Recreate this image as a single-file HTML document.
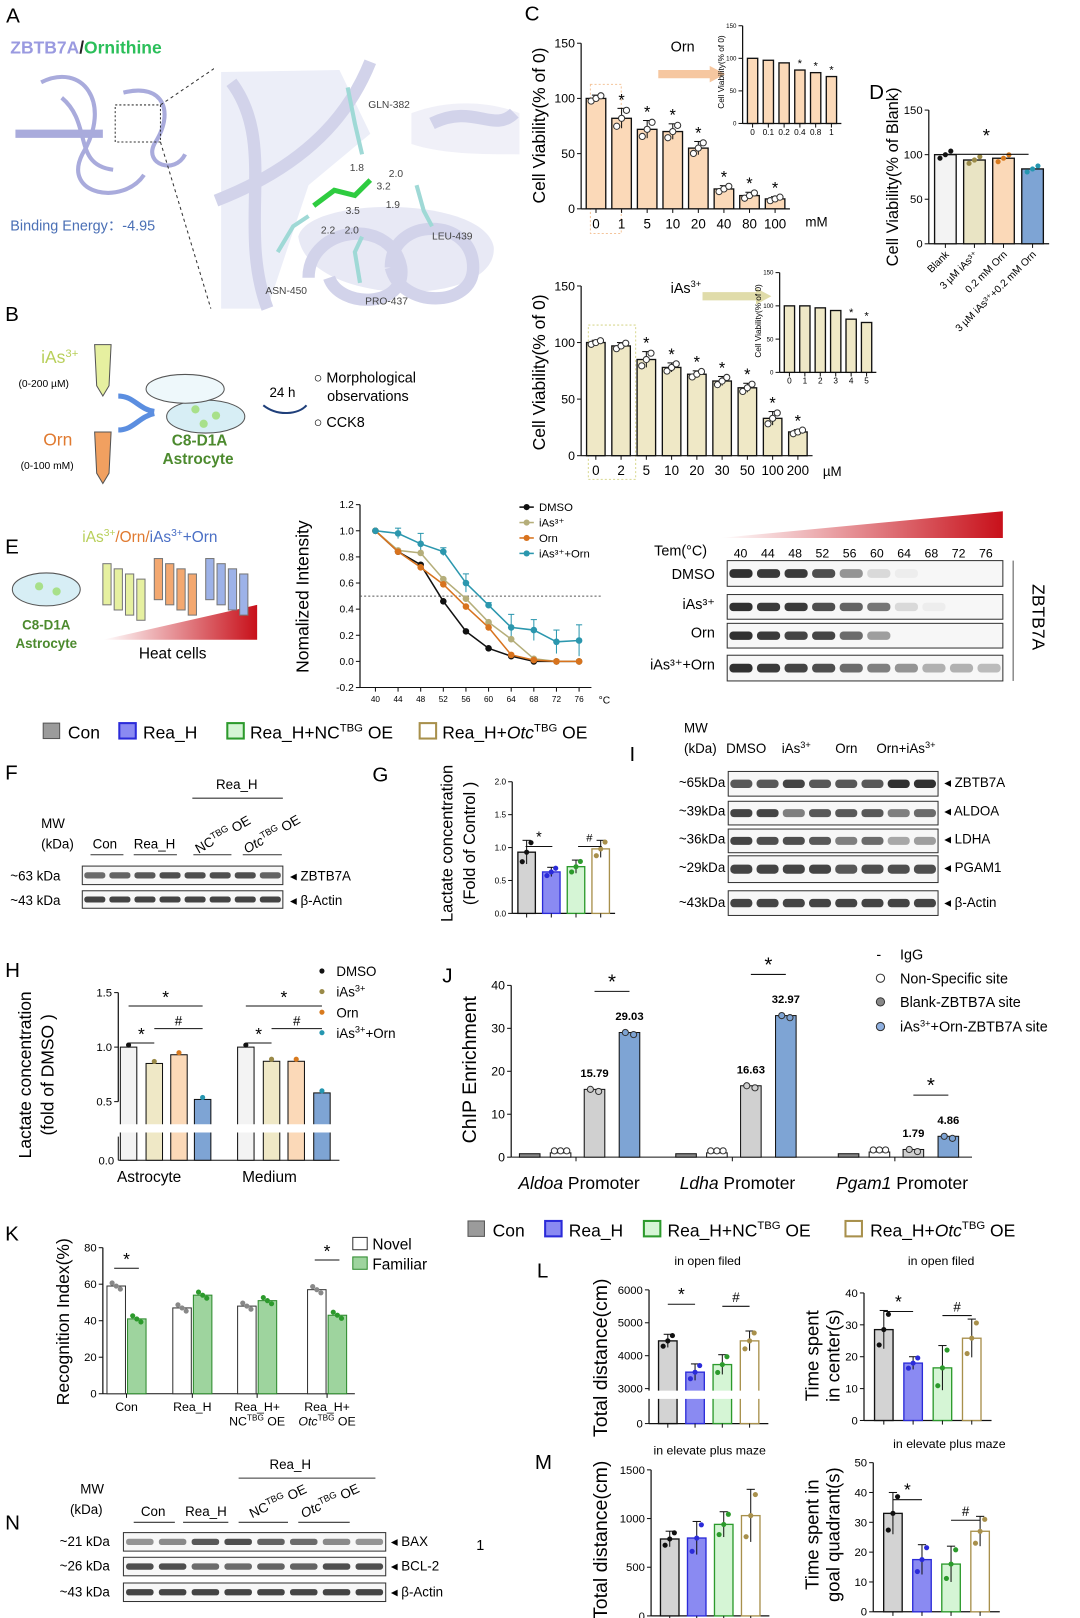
<!DOCTYPE html>
<html><head><meta charset="utf-8">
<style>
html,body{margin:0;padding:0;background:#fff;}
svg{display:block;font-family:"Liberation Sans",Arial,sans-serif;}
</style></head>
<body>
<svg id="fig" width="1080" height="1618" viewBox="0 0 1050 1573" xmlns="http://www.w3.org/2000/svg">
<defs>
<linearGradient id="redg" x1="0" x2="1" y1="0" y2="0"><stop offset="0" stop-color="#fff"/><stop offset="1" stop-color="#c8101a"/></linearGradient>
</defs>
<!-- Panel A -->
<g>
<text x="6" y="22" font-size="20">A</text>
<text x="10" y="52" font-size="17" font-weight="bold"><tspan fill="#9a9ae0">ZBTB7A</tspan><tspan fill="#222">/</tspan><tspan fill="#2bbf5a">Ornithine</tspan></text>
<g stroke="#a9abdc" fill="none" stroke-width="4">
<path d="M40 80 C80 60 110 100 80 150 C60 190 120 200 140 170"/>
<path d="M15 130 L100 130" stroke-width="8"/>
<path d="M120 90 C160 80 170 110 150 140 C140 160 170 170 180 150"/>
<path d="M60 95 C90 120 70 160 110 165"/>
</g>
<rect x="112" y="102" width="44" height="36" fill="none" stroke="#333" stroke-dasharray="2,2"/>
<line x1="156" y1="102" x2="215" y2="62" stroke="#333" stroke-dasharray="3,3"/>
<line x1="156" y1="138" x2="205" y2="300" stroke="#333" stroke-dasharray="3,3"/>
<text x="10" y="224" font-size="14" fill="#4a6fb5">Binding Energy：-4.95</text>
<g>
<rect x="208" y="62" width="300" height="238" fill="#fff"/>
<path d="M215 70 L330 68 L360 130 L300 180 L260 300 L215 300 Z" fill="#eceef8"/>
<path d="M290 230 C300 190 470 190 480 240 C485 300 300 300 290 230 Z" fill="#e8e9f5"/>
<path d="M400 110 C440 95 480 100 505 110 L505 150 C470 150 430 150 400 140 Z" fill="#f0f0f8"/>
<g stroke="#d2d3ea" fill="none" stroke-width="12">
<path d="M225 80 C270 140 230 220 260 300"/>
<path d="M210 195 C300 160 340 110 360 60"/>
<path d="M300 270 C300 220 380 210 390 260 C395 300 330 300 320 270"/>
<path d="M380 260 C380 210 460 210 460 260 C460 300 390 300 380 260"/>
<path d="M420 120 C460 100 480 130 500 110"/>
</g>
<g stroke="#9fd9d6" stroke-width="4" fill="none"><path d="M338 85 L345 120 L352 150"/><path d="M270 245 L285 220 L300 210"/><path d="M350 275 L345 245 L352 230"/><path d="M405 180 L412 205 L420 220"/></g>
<path d="M305 200 L325 185 L345 190 L360 175" stroke="#2ecc40" stroke-width="5" fill="none"/>
<g font-size="10" fill="#444"><text x="358" y="105">GLN-382</text><text x="420" y="233">LEU-439</text><text x="258" y="286">ASN-450</text><text x="355" y="296">PRO-437</text>
<text x="340" y="166">1.8</text><text x="378" y="172">2.0</text><text x="366" y="184">3.2</text><text x="375" y="202">1.9</text><text x="336" y="208">3.5</text><text x="312" y="227">2.2</text><text x="335" y="227">2.0</text></g>
</g>
</g>
<!-- Panel B -->
<g>
<text x="5" y="312" font-size="20">B</text>
<text x="40" y="353" font-size="17" fill="#b8cf5a">iAs<tspan font-size="11" dy="-6">3+</tspan></text>
<text x="18" y="376" font-size="10">(0-200 µM)</text>
<path d="M92 335 L108 335 L106 375 L100 385 L94 375 Z" fill="#e6f0a0" stroke="#555"/>
<text x="42" y="433" font-size="17" fill="#e07a30">Orn</text>
<text x="20" y="456" font-size="10">(0-100 mM)</text>
<path d="M92 420 L108 420 L106 460 L100 470 L94 460 Z" fill="#f1a060" stroke="#555"/>
<path d="M115 385 C130 385 135 398 150 400 M115 418 C130 418 135 405 150 402" stroke="#5b8ee0" stroke-width="5" fill="none"/>
<ellipse cx="200" cy="405" rx="38" ry="16" fill="#d7eef5" stroke="#555"/>
<ellipse cx="180" cy="378" rx="38" ry="14" fill="#eef8fb" stroke="#555"/>
<circle cx="190" cy="398" r="4" fill="#a8e08a"/><circle cx="210" cy="404" r="4" fill="#a8e08a"/><circle cx="198" cy="412" r="4" fill="#a8e08a"/>
<text x="167" y="433" font-size="15" font-weight="bold" fill="#4c8a2e">C8-D1A</text>
<text x="158" y="451" font-size="15" font-weight="bold" fill="#4c8a2e">Astrocyte</text>
<text x="262" y="386" font-size="13">24 h</text>
<path d="M256 394 C270 405 290 403 298 394" stroke="#1f3f7a" stroke-width="2" fill="none"/>
<text x="305" y="372" font-size="14">○ Morphological</text>
<text x="318" y="390" font-size="14">observations</text>
<text x="305" y="415" font-size="14">○ CCK8</text>
</g>
<!-- Panel C/D static labels -->
<g>
<text x="510" y="20" font-size="20">C</text>
<text x="845" y="96" font-size="20">D</text>
<text x="652" y="50" font-size="14">Orn</text>
<text x="652" y="285" font-size="14">iAs<tspan font-size="9" dy="-6">3+</tspan></text>
<text x="783" y="220" font-size="13">mM</text>
<text x="800" y="463" font-size="13">µM</text>
<rect x="574" y="82" width="30" height="145" fill="none" stroke="#f4c49a" stroke-dasharray="2,2"/>
<rect x="572" y="316" width="46" height="150" fill="none" stroke="#d8d890" stroke-dasharray="2,2"/>
<path d="M640 68 L690 68 L690 64 L705 72 L690 80 L690 76 L640 76 Z" fill="#f6c7a0"/>
<path d="M683 284 L735 284 L735 280 L750 288 L735 296 L735 292 L683 292 Z" fill="#e0dcaa"/>
<text transform="translate(530,122) rotate(-90)" text-anchor="middle" font-size="17">Cell Viability(% of 0)</text>
<text transform="translate(530,362) rotate(-90)" text-anchor="middle" font-size="17">Cell Viability(% of 0)</text>
<text transform="translate(704,70) rotate(-90)" text-anchor="middle" font-size="8">Cell Viability(% of 0)</text>
<text transform="translate(740,312) rotate(-90)" text-anchor="middle" font-size="8">Cell Viability(% of 0)</text>
<text transform="translate(873,172) rotate(-90)" text-anchor="middle" font-size="16">Cell Viability(% of Blank)</text>
</g>
<!-- Panel E static -->
<g>
<text x="5" y="538" font-size="20">E</text>
<text x="80" y="527" font-size="15"><tspan fill="#b8cf5a">iAs<tspan font-size="10" dy="-6">3+</tspan></tspan><tspan dy="6" fill="#e07a30">/Orn/</tspan><tspan fill="#4a6fc5">iAs<tspan font-size="10" dy="-6">3+</tspan><tspan dy="6">+Orn</tspan></tspan></text>
<ellipse cx="45" cy="573" rx="33" ry="16" fill="#d7eef5" stroke="#555"/>
<circle cx="38" cy="570" r="4" fill="#a8e08a"/><circle cx="55" cy="575" r="4" fill="#a8e08a"/>
<text x="45" y="612" font-size="13" font-weight="bold" fill="#4c8a2e" text-anchor="middle">C8-D1A</text>
<text x="45" y="630" font-size="13" font-weight="bold" fill="#4c8a2e" text-anchor="middle">Astrocyte</text>
<path d="M100 622 L250 588 L250 622 Z" fill="url(#redg)"/>
<g stroke="#777" stroke-width="1">
<rect x="100" y="548" width="8" height="40" fill="#e6f0a0"/><rect x="111" y="553" width="8" height="40" fill="#e6f0a0"/><rect x="122" y="558" width="8" height="40" fill="#e6f0a0"/><rect x="133" y="563" width="8" height="40" fill="#e6f0a0"/>
<rect x="150" y="543" width="8" height="40" fill="#f3a870"/><rect x="161" y="548" width="8" height="40" fill="#f3a870"/><rect x="172" y="553" width="8" height="40" fill="#f3a870"/><rect x="183" y="558" width="8" height="40" fill="#f3a870"/>
<rect x="200" y="543" width="8" height="40" fill="#9db2e8"/><rect x="211" y="548" width="8" height="40" fill="#9db2e8"/><rect x="222" y="553" width="8" height="40" fill="#9db2e8"/><rect x="233" y="558" width="8" height="40" fill="#9db2e8"/>
</g>
<text x="135" y="640" font-size="15">Heat cells</text>
<text transform="translate(300,580) rotate(-90)" text-anchor="middle" font-size="17">Nomalized Intensity</text>
<text x="582" y="684" font-size="10">°C</text>
<text x="636" y="540" font-size="14">Tem(°C)</text>
<path d="M700 523 L975 497 L975 523 Z" fill="url(#redg)"/>
<text transform="translate(1004,600) rotate(90)" text-anchor="middle" font-size="17">ZBTB7A</text>
<line x1="985" y1="545" x2="985" y2="662" stroke="#555"/>
</g>
<!-- group legend 1 -->
<g font-size="17">
<rect x="42" y="703" width="16" height="15" fill="#9b9b9b" stroke="#555"/><text x="66" y="718">Con</text>
<rect x="116" y="703" width="16" height="15" fill="#8a8af2" stroke="#2b2bd9" stroke-width="2"/><text x="139" y="718">Rea_H</text>
<rect x="221" y="703" width="16" height="15" fill="#d5f5d5" stroke="#2c9a2c" stroke-width="2"/><text x="243" y="718">Rea_H+NC<tspan font-size="11" dy="-7">TBG</tspan><tspan dy="7"> OE</tspan></text>
<rect x="408" y="703" width="16" height="15" fill="#fff" stroke="#a8904c" stroke-width="2"/><text x="430" y="718">Rea_H+<tspan font-style="italic">Otc</tspan><tspan font-size="11" dy="-7">TBG</tspan><tspan dy="7"> OE</tspan></text>
</g>
<!-- Panel F -->
<g font-size="13">
<text x="5" y="758" font-size="20">F</text>
<text x="210" y="767">Rea_H</text><line x1="187" y1="776" x2="275" y2="776" stroke="#333"/>
<text x="40" y="805">MW</text><text x="40" y="825">(kDa)</text>
<text x="90" y="825">Con</text><line x1="88" y1="831" x2="120" y2="831" stroke="#333"/>
<text x="130" y="825">Rea_H</text><line x1="130" y1="831" x2="172" y2="831" stroke="#333"/>
<text transform="translate(193,830) rotate(-30)">NC<tspan font-size="9" dy="-5">TBG</tspan><tspan dy="5"> OE</tspan></text><line x1="188" y1="831" x2="225" y2="831" stroke="#333"/>
<text transform="translate(240,830) rotate(-30)"><tspan font-style="italic">Otc</tspan><tspan font-size="9" dy="-5">TBG</tspan><tspan dy="5"> OE</tspan></text><line x1="236" y1="831" x2="274" y2="831" stroke="#333"/>
<text x="10" y="856">~63 kDa</text><text x="10" y="880">~43 kDa</text>
<text x="282" y="856">◂ ZBTB7A</text><text x="282" y="880">◂ β-Actin</text>
</g>
<!-- Panel G / I labels -->
<g>
<text x="362" y="760" font-size="20">G</text>
<text transform="translate(440,820) rotate(-90)" text-anchor="middle" font-size="16">Lactate concentration</text>
<text transform="translate(462,820) rotate(-90)" text-anchor="middle" font-size="16">(Fold of Control )</text>
<text x="612" y="740" font-size="20">I</text>
<g font-size="13"><text x="665" y="712">MW</text><text x="665" y="732">(kDa)</text><text x="706" y="732">DMSO</text><text x="760" y="732">iAs<tspan font-size="9" dy="-5">3+</tspan></text><text x="812" y="732">Orn</text><text x="852" y="732">Orn+iAs<tspan font-size="9" dy="-5">3+</tspan></text>
<text x="660" y="765">~65kDa</text><text x="660" y="793">~39kDa</text><text x="660" y="820">~36kDa</text><text x="660" y="848">~29kDa</text><text x="660" y="882">~43kDa</text>
<text x="918" y="765">◂ ZBTB7A</text><text x="918" y="793">◂ ALDOA</text><text x="918" y="820">◂ LDHA</text><text x="918" y="848">◂ PGAM1</text><text x="918" y="882">◂ β-Actin</text></g>
</g>
<!-- Panel H/J labels -->
<g>
<text x="5" y="950" font-size="20">H</text>
<text transform="translate(30,1045) rotate(-90)" text-anchor="middle" font-size="17">Lactate concentration</text>
<text transform="translate(52,1045) rotate(-90)" text-anchor="middle" font-size="17">(fold of DMSO )</text>
<text x="145" y="1149" font-size="15" text-anchor="middle">Astrocyte</text><text x="262" y="1149" font-size="15" text-anchor="middle">Medium</text>
<g font-size="13"><circle cx="313" cy="944" r="2.5" fill="#111"/><text x="327" y="949">DMSO</text>
<circle cx="313" cy="964" r="2.5" fill="#9a8a48"/><text x="327" y="969">iAs<tspan font-size="9" dy="-5">3+</tspan></text>
<circle cx="313" cy="984" r="2.5" fill="#d87a1e"/><text x="327" y="989">Orn</text>
<circle cx="313" cy="1004" r="2.5" fill="#2596b0"/><text x="327" y="1009">iAs<tspan font-size="9" dy="-5">3+</tspan><tspan dy="5">+Orn</tspan></text></g>
<text x="430" y="955" font-size="20">J</text>
<text transform="translate(463,1040) rotate(-90)" text-anchor="middle" font-size="19">ChIP Enrichment</text>
<g font-size="17"><text x="563" y="1156" text-anchor="middle"><tspan font-style="italic">Aldoa</tspan> Promoter</text><text x="717" y="1156" text-anchor="middle"><tspan font-style="italic">Ldha</tspan> Promoter</text><text x="877" y="1156" text-anchor="middle"><tspan font-style="italic">Pgam1</tspan> Promoter</text></g>
<g font-size="14"><text x="852" y="933">-</text><text x="875" y="933">IgG</text>
<circle cx="856" cy="951" r="4" fill="#fff" stroke="#333"/><text x="875" y="956">Non-Specific site</text>
<circle cx="856" cy="974" r="4" fill="#888" stroke="#333"/><text x="875" y="979">Blank-ZBTB7A site</text>
<circle cx="856" cy="998" r="4" fill="#8fb0e0" stroke="#333"/><text x="875" y="1003">iAs<tspan font-size="9" dy="-5">3+</tspan><tspan dy="5">+Orn-ZBTB7A site</tspan></text></g>
</g>
<!-- group legend 2 -->
<g font-size="17">
<rect x="455" y="1187" width="16" height="15" fill="#9b9b9b" stroke="#555"/><text x="479" y="1202">Con</text>
<rect x="530" y="1187" width="16" height="15" fill="#8a8af2" stroke="#2b2bd9" stroke-width="2"/><text x="553" y="1202">Rea_H</text>
<rect x="626" y="1187" width="16" height="15" fill="#d5f5d5" stroke="#2c9a2c" stroke-width="2"/><text x="649" y="1202">Rea_H+NC<tspan font-size="11" dy="-7">TBG</tspan><tspan dy="7"> OE</tspan></text>
<rect x="822" y="1187" width="16" height="15" fill="#fff" stroke="#a8904c" stroke-width="2"/><text x="846" y="1202">Rea_H+<tspan font-style="italic">Otc</tspan><tspan font-size="11" dy="-7">TBG</tspan><tspan dy="7"> OE</tspan></text>
</g>
<!-- Panel K labels -->
<g>
<text x="5" y="1206" font-size="20">K</text>
<text transform="translate(67,1285) rotate(-90)" text-anchor="middle" font-size="17">Recognition Index(%)</text>
<rect x="343" y="1203" width="14" height="12" fill="#fff" stroke="#333"/><text x="362" y="1215" font-size="15">Novel</text>
<rect x="343" y="1222" width="14" height="12" fill="#9ed49e" stroke="#2c8a2c"/><text x="362" y="1234" font-size="15">Familiar</text>
<g font-size="12" text-anchor="middle"><text x="123" y="1372">Con</text><text x="187" y="1372">Rea_H</text><text x="250" y="1372">Rea_H+</text><text x="250" y="1386">NC<tspan font-size="8" dy="-5">TBG</tspan><tspan dy="5"> OE</tspan></text><text x="318" y="1372">Rea_H+</text><text x="318" y="1386"><tspan font-style="italic">Otc</tspan><tspan font-size="8" dy="-5">TBG</tspan><tspan dy="5"> OE</tspan></text></g>
</g>
<!-- Panel L/M labels -->
<g>
<text x="522" y="1242" font-size="20">L</text>
<text x="520" y="1428" font-size="20">M</text>
<g font-size="12" text-anchor="middle"><text x="688" y="1230">in open filed</text><text x="915" y="1230">in open filed</text><text x="690" y="1414">in elevate plus maze</text><text x="923" y="1408">in elevate plus maze</text></g>
<text transform="translate(590,1320) rotate(-90)" text-anchor="middle" font-size="19">Total distance(cm)</text>
<text transform="translate(590,1497) rotate(-90)" text-anchor="middle" font-size="19">Total distance(cm)</text>
<text transform="translate(796,1318) rotate(-90)" text-anchor="middle" font-size="18">Time spent</text>
<text transform="translate(816,1318) rotate(-90)" text-anchor="middle" font-size="18">in center(s)</text>
<text transform="translate(796,1492) rotate(-90)" text-anchor="middle" font-size="18">Time spent in</text>
<text transform="translate(816,1492) rotate(-90)" text-anchor="middle" font-size="18">goal quadrant(s)</text>
</g>
<!-- Panel N -->
<g font-size="13">
<text x="5" y="1487" font-size="20">N</text>
<text x="262" y="1428">Rea_H</text><line x1="232" y1="1437" x2="365" y2="1437" stroke="#333"/>
<text x="78" y="1452">MW</text><text x="68" y="1472">(kDa)</text>
<text x="137" y="1474">Con</text><line x1="130" y1="1480" x2="170" y2="1480" stroke="#333"/>
<text x="180" y="1474">Rea_H</text><line x1="178" y1="1480" x2="222" y2="1480" stroke="#333"/>
<text transform="translate(245,1476) rotate(-25)">NC<tspan font-size="9" dy="-5">TBG</tspan><tspan dy="5"> OE</tspan></text><line x1="232" y1="1480" x2="280" y2="1480" stroke="#333"/>
<text transform="translate(295,1476) rotate(-25)"><tspan font-style="italic">Otc</tspan><tspan font-size="9" dy="-5">TBG</tspan><tspan dy="5"> OE</tspan></text><line x1="290" y1="1480" x2="340" y2="1480" stroke="#333"/>
<text x="58" y="1503">~21 kDa</text><text x="58" y="1527">~26 kDa</text><text x="58" y="1552">~43 kDa</text>
<text x="380" y="1503">◂ BAX</text><text x="380" y="1527">◂ BCL-2</text><text x="380" y="1552">◂ β-Actin</text>
<text x="463" y="1507" font-size="14">1</text>
</g>
<g id="charts"></g>
</svg>
<script>
// ---------- DATA ----------
const cTopCats = ["0","1","5","10","20","40","80","100"];
const cTopVals = [100, 82, 72, 70, 55, 18, 12, 9];
const cTopErr = [3, 9, 8, 7, 6, 3, 3, 2];
const cTopStars = [0,1,1,1,1,1,1,1];
const inset1Cats = ["0","0.1","0.2","0.4","0.8","1"];
const inset1Vals = [100, 97, 93, 82, 78, 72];
const inset1Stars = [0,0,0,1,1,1];
const cBotCats = ["0","2","5","10","20","30","50","100","200"];
const cBotVals = [100, 97, 85, 78, 72, 66, 60, 33, 21];
const cBotErr = [2, 3, 7, 4, 3, 4, 4, 6, 2];
const cBotStars = [0,0,1,1,1,1,1,1,1];
const inset2Cats = ["0","1","2","3","4","5"];
const inset2Vals = [100, 100, 97, 93, 80, 75];
const inset2Stars = [0,0,0,0,1,1];
const dCats = ["Blank","3 µM iAs³⁺","0.2 mM Orn","3 µM iAs³⁺+0.2 mM Orn"];
const dVals = [100, 94, 96, 84];
const eTemps = [40,44,48,52,56,60,64,68,72,76];
const eDMSO = [1.0,0.84,0.74,0.46,0.23,0.10,0.04,0.0,0.0,0.0];
const eIAs = [1.0,0.85,0.83,0.63,0.48,0.30,0.17,0.02,0.0,0.0];
const eOrn = [1.0,0.84,0.72,0.59,0.42,0.26,0.05,0.01,0.0,0.0];
const eBoth = [1.0,0.98,0.90,0.84,0.60,0.43,0.26,0.24,0.15,0.16];
const eBothErr = [0,0.04,0.08,0.03,0.07,0.02,0.10,0.08,0.09,0.12];
const eTicks = [-0.2,0.0,0.2,0.4,0.6,0.8,1.0,1.2];
const blotDMSO = [1,0.95,0.95,0.85,0.5,0.15,0.05,0,0,0];
const blotIAs = [1,0.95,0.95,0.85,0.75,0.65,0.15,0.05,0,0];
const blotOrn = [1,0.95,0.9,0.9,0.7,0.45,0,0,0,0];
const blotBoth = [1,0.95,0.9,0.85,0.7,0.6,0.5,0.35,0.35,0.3];
const gVals = [0.93, 0.63, 0.71, 0.98];
const gErr = [0.18, 0.07, 0.1, 0.13];
const hAstro = [1.0, 0.85, 0.93, 0.52];
const hMedium = [1.0, 0.87, 0.87, 0.58];
const jIgG = [0.8, 0.8, 0.8];
const jNonSpec = [1.0, 1.0, 1.2];
const jBlank = [15.79, 16.63, 1.79];
const jIasOrn = [29.03, 32.97, 4.86];
const kNovel = [59, 47, 48, 57];
const kFamiliar = [41, 54, 51, 43];
const lDistance = [4450, 3500, 3730, 4450];
const lCenter = [28.5, 18, 16.5, 25.8];
const mDistance = [790, 800, 940, 1030];
const mGoal = [33, 17.5, 16, 27];
const groupFills = ["#d3d3d3","#8a8af2","#d5f5d5","#ffffff"];
const groupStrokes = ["#111","#2b2bd9","#2c9a2c","#a8904c"];
const groupDots = ["#111","#2b2bd9","#2c9a2c","#a8904c"];

// ---------- helpers ----------
const NS = "http://www.w3.org/2000/svg";
const root = document.getElementById("charts");
function mk(tag, attrs, parent) {
  const e = document.createElementNS(NS, tag);
  for (const k in attrs) e.setAttribute(k, attrs[k]);
  (parent || root).appendChild(e);
  return e;
}
function txt(x, y, s, size, anchor, parent) {
  const t = mk("text", {x: x, y: y, "font-size": size, "text-anchor": anchor || "middle"}, parent);
  t.textContent = s;
  return t;
}
function linScale(v0, v1, p0, p1) { return v => p0 + (v - v0) * (p1 - p0) / (v1 - v0); }

function axisY(g, x, yScale, ticks, labels, size) {
  mk("line", {x1: x, y1: yScale(ticks[ticks.length-1]), x2: x, y2: yScale(ticks[0]), stroke: "#111", "stroke-width": 1.2}, g);
  ticks.forEach((t, i) => {
    mk("line", {x1: x-4, y1: yScale(t), x2: x, y2: yScale(t), stroke: "#111"}, g);
    txt(x-6, yScale(t)+size*0.35, labels[i], size, "end", g);
  });
}

function barChart(name, o) {
  const g = mk("g", {});
  
  
  const y = o.yScale;
  axisY(g, o.left, y, o.ticks, o.tickLabels, o.tickSize);
  mk("line", {x1: o.left, y1: o.base, x2: o.right, y2: o.base, stroke: "#111", "stroke-width": 1.2}, g);
  const step = (o.right - o.left - o.pad) / o.vals.length;
  o.vals.forEach((v, i) => {
    const cx = o.left + o.pad/2 + step*(i+0.5);
    const top = y(v);
    const r = mk("rect", {x: cx - o.bw/2, y: top, width: o.bw, height: o.base - top,
      fill: o.fills[i % o.fills.length], stroke: o.strokes[i % o.strokes.length], "stroke-width": 1.3}, g);
    
    
    if (o.errs) {
      const e = o.errs[i];
      mk("line", {x1: cx, y1: y(v+e), x2: cx, y2: y(v-e), stroke: "#111"}, g);
      mk("line", {x1: cx-4, y1: y(v+e), x2: cx+4, y2: y(v+e), stroke: "#111"}, g);
    }
    if (o.dots) {
      [-0.25, 0, 0.25].forEach((d, j) => {
        const dv = v + (o.errs ? o.errs[i] : v*0.05) * (j-1) * 0.8;
        mk("circle", {cx: cx + d*o.bw, cy: y(dv), r: o.dotR || 2.5, fill: o.dots[i % o.dots.length], stroke: o.dotStroke || "none"}, g);
      });
    }
    mk("line", {x1: cx, y1: o.base, x2: cx, y2: o.base+4, stroke: "#111"}, g);
    if (o.cats) txt(cx, o.base + o.catOff, o.cats[i], o.catSize, "middle", g);
    if (o.stars && o.stars[i]) txt(cx, top - (o.errs ? (y(0)-y(o.errs[i])) : 0) - 3, "*", o.starSize || 16, "middle", g);
  });
  return g;
}

// ---------- C top ----------
barChart("c-top-chart", {left:565, right:768, pad:4, base:203, yScale: linScale(0,150,203,42),
  ticks:[0,50,100,150], tickLabels:["0","50","100","150"], tickSize:12, vals:cTopVals, errs:cTopErr,
  fills:["#fbd9b8"], strokes:["#111"], bw:19, cats:cTopCats, catOff:19, catSize:13, stars:cTopStars,
  dots:["#fff"], dotStroke:"#333", dotR:3});
barChart("c-inset-orn", {left:722, right:818, pad:4, base:120, yScale: linScale(0,150,120,25),
  ticks:[0,50,100,150], tickLabels:["0","50","100","150"], tickSize:6, vals:inset1Vals,
  fills:["#fbd9b8"], strokes:["#111"], bw:10, cats:inset1Cats, catOff:11, catSize:8, stars:inset1Stars, starSize:11});
barChart("d-chart", {left:903, right:1020, pad:4, base:237, yScale: linScale(0,150,237,107),
  ticks:[0,50,100,150], tickLabels:["0","50","100","150"], tickSize:11, vals:dVals,
  fills:["#f3f3f3","#e9e4c4","#fbd9b8","#7ea4d4"], strokes:["#111"], bw:21,
  dots:["#111","#9a8a48","#d87a1e","#2596b0"]});
(function(){
  const g = mk("g", {});
  
  
  const step = (1020-903-4)/dCats.length;
  dCats.forEach((c, i) => {
    const cx = 903 + 2 + step*(i+0.5);
    const t = mk("text", {transform: `translate(${cx+4},${248}) rotate(-45)`, "font-size": 10, "text-anchor": "end"}, g);
    t.textContent = c;
  });
  mk("line", {x1:918, y1:150, x2:1000, y2:150, stroke:"#111"}, g);
  txt(959, 138, "*", 18, "middle", g);
})();

// ---------- C bottom ----------
barChart("c-bottom-chart", {left:565, right:790, pad:4, base:443, yScale: linScale(0,150,443,278),
  ticks:[0,50,100,150], tickLabels:["0","50","100","150"], tickSize:12, vals:cBotVals, errs:cBotErr,
  fills:["#efe8c6"], strokes:["#111"], bw:18, cats:cBotCats, catOff:19, catSize:13, stars:cBotStars,
  dots:["#fff"], dotStroke:"#333", dotR:3});
barChart("c-inset-ias", {left:758, right:852, pad:4, base:362, yScale: linScale(0,150,362,265),
  ticks:[0,50,100,150], tickLabels:["0","50","100","150"], tickSize:6, vals:inset2Vals,
  fills:["#efe8c6"], strokes:["#111"], bw:10, cats:inset2Cats, catOff:11, catSize:8, stars:inset2Stars, starSize:11});

// ---------- E line chart ----------
(function(){
  const g = mk("g", {});
  
  
  const y = linScale(0, 1, 643, 516);
  const x = linScale(40, 76, 365, 563);
  axisY(g, 350, y, eTicks, eTicks.map(v => v.toFixed(1)), 10);
  mk("line", {x1:350, y1:y(-0.2), x2:575, y2:y(-0.2), stroke:"#111"}, g);
  eTemps.forEach(t => { mk("line", {x1:x(t), y1:y(-0.2), x2:x(t), y2:y(-0.2)+4, stroke:"#111"}, g); txt(x(t), y(-0.2)+14, String(t), 8, "middle", g); });
  mk("line", {x1:350, y1:y(0.5), x2:585, y2:y(0.5), stroke:"#555", "stroke-dasharray":"2,2"}, g);
  const series = [[eDMSO,"#111","dmso"],[eIAs,"#b5ae7a","ias"],[eOrn,"#d8731e","orn"],[eBoth,"#2b97ae","ias-orn"]];
  const bx = eBothErr;
  eBoth.forEach((v,i)=>{ if(bx[i]>0){ mk("line",{x1:x(eTemps[i]),y1:y(v+bx[i]),x2:x(eTemps[i]),y2:y(v-bx[i]),stroke:"#2b97ae"},g); mk("line",{x1:x(eTemps[i])-3,y1:y(v+bx[i]),x2:x(eTemps[i])+3,y2:y(v+bx[i]),stroke:"#2b97ae"},g);} });
  series.forEach(([vals,col,nm]) => {
    const p = mk("polyline", {points: vals.map((v,i)=>x(eTemps[i])+","+y(v)).join(" "), fill:"none", stroke:col, "stroke-width":1.5}, g);
    
    
    vals.forEach((v,i)=> mk("circle", {cx:x(eTemps[i]), cy:y(v), r:3.2, fill:col}, g));
  });
  const lg = mk("g", {}, g);
  
  
  [["DMSO","#111"],["iAs³⁺","#b5ae7a"],["Orn","#d8731e"],["iAs³⁺+Orn","#2b97ae"]].forEach(([l,c],i)=>{
    const yy = 493 + i*15;
    mk("line",{x1:505,y1:yy,x2:519,y2:yy,stroke:c,"stroke-width":1.5},lg);
    mk("circle",{cx:512,cy:yy,r:3,fill:c},lg);
    txt(524, yy+4, l, 11, "start", lg);
  });
})();

// ---------- blots ----------
function blot(name, x, y, w, h, vals) {
  const g = mk("g", {});
  
  
  mk("rect", {x:x, y:y, width:w, height:h, fill:"#f7f7f7", stroke:"#333"}, g);
  const step = w / vals.length;
  vals.forEach((v,i)=>{
    if (v > 0) mk("rect", {x: x + step*(i+0.08), y: y + h*0.33, width: step*0.84, height: h*0.34, rx: h*0.15, fill:"#1a1a1a", opacity: v*0.9}, g);
  });
}
(function(){
  const g = mk("g", {});
  
  
  eTemps.forEach((t,i)=> txt(720 + i*26.5, 542, String(t), 12, "middle", g));
  [["DMSO",563],["iAs³⁺",592],["Orn",620],["iAs³⁺+Orn",651]].forEach(([l,yy])=> txt(695, yy, l, 14, "end", g));
})();
blot("cetsa-dmso", 707, 545, 268, 25, blotDMSO);
blot("cetsa-ias", 707, 578, 268, 24, blotIAs);
blot("cetsa-orn", 707, 606, 268, 24, blotOrn);
blot("cetsa-ias-orn", 707, 637, 268, 25, blotBoth);
blot("f-zbtb7a", 80, 842, 195, 18, [0.7,0.75,0.8,0.85,0.85,0.85,0.85,0.75]);
blot("f-actin", 80, 866, 195, 17, [0.9,0.9,0.9,0.9,0.9,0.9,0.9,0.9]);
blot("i-zbtb7a", 708, 750, 204, 24, [0.8,0.8,0.9,0.8,0.8,0.8,1,1]);
blot("i-aldoa", 708, 779, 204, 23, [0.9,0.9,0.6,0.8,0.8,0.8,0.6,0.7]);
blot("i-ldha", 708, 806, 204, 23, [0.9,0.85,0.85,0.8,0.6,0.7,0.4,0.45]);
blot("i-pgam1", 708, 832, 204, 26, [0.9,0.9,0.9,0.9,0.8,0.85,0.85,0.85]);
blot("i-actin", 708, 866, 204, 24, [0.9,0.9,0.9,0.9,0.9,0.9,0.9,0.9]);
blot("n-bax", 120, 1490, 255, 18, [0.5,0.55,0.8,0.85,0.75,0.7,0.55,0.5]);
blot("n-bcl2", 120, 1514, 255, 18, [0.85,0.85,0.7,0.7,0.75,0.75,0.85,0.85]);
blot("n-actin", 120, 1539, 255, 18, [0.9,0.9,0.9,0.9,0.9,0.9,0.9,0.9]);

// ---------- G ----------
barChart("g-chart", {left:498, right:598, pad:4, base:888, yScale: linScale(0,2,888,760),
  ticks:[0,0.5,1,1.5,2], tickLabels:["0.0","0.5","1.0","1.5","2.0"], tickSize:8, vals:gVals, errs:gErr,
  fills:groupFills, strokes:groupStrokes, bw:17, dots:groupDots});
(function(){ const g = mk("g",{});  
  mk("line",{x1:511,y1:823,x2:537,y2:823,stroke:"#111"},g); txt(524,818,"*",14,"middle",g);
  mk("line",{x1:562,y1:823,x2:585,y2:823,stroke:"#111"},g); txt(573,818,"#",11,"middle",g); })();

// ---------- H ----------
(function(){
  const g = mk("g", {});
  
  
  const base = 1128;
  const y = v => v >= 0.5 ? 1071 - (v-0.5)*106 : base;
  axisY(g, 115, y, [0.5,1.0,1.5], ["0.5","1.0","1.5"], 11);
  mk("line",{x1:115,y1:1105,x2:115,y2:base,stroke:"#111"},g);
  txt(111, base+4, "0.0", 11, "end", g);
  mk("rect",{x:108,y:1093,width:225,height:8,fill:"#fff"},g);
  mk("line",{x1:115,y1:base,x2:330,y2:base,stroke:"#111"},g);
  const fills = ["#f3f3f3","#efe8c6","#fbd9b8","#7ea4d4"];
  const dots = ["#111","#9a8a48","#d87a1e","#2596b0"];
  const centersA = [125,150,174,197], centersM = [239,264,288,313];
  [[hAstro,centersA],[hMedium,centersM]].forEach(([vals,cs],gi)=>{
    vals.forEach((v,i)=>{
      const r = mk("rect",{x:cs[i]-8,y:y(v),width:16,height:base-y(v),fill:fills[i],stroke:"#111"},g);
      
      
      mk("circle",{cx:cs[i],cy:y(v)-2,r:2.5,fill:dots[i]},g);
    });
    mk("rect",{x:cs[0]-10,y:1093,width:cs[3]-cs[0]+20,height:8,fill:"#fff"},g);
  });
  [[125,150,1014,'*'],[150,197,1000,'#'],[125,197,978,'*'],[239,264,1014,'*'],[264,313,1000,'#'],[239,313,978,'*']].forEach(([a,b,yy,s])=>{
    mk("line",{x1:a,y1:yy,x2:b,y2:yy,stroke:"#111"},g); txt((a+b)/2, yy-3, s, s==='*'?17:13, "middle", g);
  });
})();

// ---------- J ----------
(function(){
  const g = mk("g", {});
  
  
  const y = linScale(0, 40, 1125, 958);
  axisY(g, 497, y, [0,10,20,30,40], ["0","10","20","30","40"], 12);
  mk("line",{x1:497,y1:1125,x2:945,y2:1125,stroke:"#111"},g);
  const groupStart = [515, 667, 825];
  const offs = [0, 30, 63, 97];
  const fills = ["#888","#fff","#d0d0d0","#7ea4d4"];
  [jIgG, jNonSpec, jBlank, jIasOrn].forEach((arr, s)=>{
    arr.forEach((v,gi)=>{
      const cx = groupStart[gi] + offs[s];
      const r = mk("rect",{x:cx-10,y:y(v),width:20,height:1125-y(v),fill:fills[s],stroke:"#111"},g);
      
      
      if (s >= 2) {
        txt(cx, y(v)-12, v.toFixed(2), 11, "middle", g).setAttribute("font-weight","bold");
        mk("circle",{cx:cx-4,cy:y(v),r:3,fill:fills[s],stroke:"#333"},g);
        mk("circle",{cx:cx+4,cy:y(v)+2,r:3,fill:fills[s],stroke:"#333"},g);
      }
      if (s === 1) [-6,0,6].forEach(d=>mk("circle",{cx:cx+d,cy:y(v)-2,r:3,fill:"#fff",stroke:"#333"},g));
    });
  });
  groupStart.forEach((gs,gi)=>{
    const a = gs+offs[2], b = gs+offs[3];
    const top = y(jIasOrn[gi]) - 40;
    mk("line",{x1:a,y1:top,x2:b,y2:top,stroke:"#111"},g);
    txt((a+b)/2, top-3, "*", 20, "middle", g);
    mk("line",{x1:gs+45,y1:1125,x2:gs+45,y2:1129,stroke:"#111"},g);
  });
})();

// ---------- K ----------
(function(){
  const g = mk("g", {});
  
  
  const y = linScale(0, 80, 1355, 1213);
  axisY(g, 100, y, [0,20,40,60,80], ["0","20","40","60","80"], 11);
  mk("line",{x1:100,y1:1355,x2:345,y2:1355,stroke:"#111"},g);
  const centers = [123, 187, 250, 318];
  kNovel.forEach((v,i)=>{
    const c = centers[i];
    const r1 = mk("rect",{x:c-19,y:y(v),width:18,height:1355-y(v),fill:"#fff",stroke:"#333"},g);
    
    
    const f = kFamiliar[i];
    const r2 = mk("rect",{x:c+1,y:y(f),width:18,height:1355-y(f),fill:"#9ed49e",stroke:"#2c8a2c"},g);
    
    
    [-4,0,4].forEach((d,j)=>{ mk("circle",{cx:c-10+d,cy:y(v)+(j-1)*3,r:2.5,fill:"#888"},g); mk("circle",{cx:c+10+d,cy:y(f)+(j-1)*3,r:2.5,fill:"#2c9a2c"},g); });
    mk("line",{x1:c,y1:1355,x2:c,y2:1359,stroke:"#111"},g);
  });
  [[0,1233],[3,1225]].forEach(([i,yy])=>{ mk("line",{x1:centers[i]-12,y1:yy,x2:centers[i]+12,y2:yy,stroke:"#111"},g); txt(centers[i], yy-3, "*", 17, "middle", g); });
})();

// ---------- L / M ----------
function groupChart(name, o) {
  const g = barChart(name, Object.assign({fills:groupFills, strokes:groupStrokes, dots:groupDots, tickSize:11, pad:10, bw:18}, o));
  if (o.sig) o.sig.forEach(([a,b,yy,s])=>{
    const step = (o.right - o.left - 10)/4;
    const ca = o.left+5+step*(a+0.5), cb = o.left+5+step*(b+0.5);
    mk("line",{x1:ca,y1:yy,x2:cb,y2:yy,stroke:"#111"},g);
    txt((ca+cb)/2, yy-4, s, s==='*'?17:13, "middle", g);
  });
  return g;
}
(function(){
  const yBreak = v => v >= 3000 ? 1350 - (v-3000)*(96/3000) : 1384 - v*(34/3000);
  const g = groupChart("l-distance-chart", {left:631, right:747, base:1384, yScale:yBreak,
    ticks:[0,3000,4000,5000,6000], tickLabels:["0","3000","4000","5000","6000"], vals:lDistance,
    errs:[200,250,300,300], sig:[[0,1,1268,'*'],[2,3,1270,'#']]});
  mk("rect",{x:625,y:1352,width:125,height:8,fill:"#fff"},g);
})();
groupChart("l-center-chart", {left:840, right:964, base:1381, yScale:linScale(0,40,1381,1257),
  ticks:[0,10,20,30,40], tickLabels:["0","10","20","30","40"], vals:lCenter, errs:[6,2,7,6],
  sig:[[0,1,1275,'*'],[2,3,1279,'#']]});
groupChart("m-distance-chart", {left:633, right:748, base:1571, yScale:linScale(0,1500,1571,1429),
  ticks:[0,500,1000,1500], tickLabels:["0","500","1000","1500"], vals:mDistance, errs:[80,170,130,270]});
groupChart("m-goal-chart", {left:849, right:972, base:1567, yScale:linScale(0,50,1567,1422),
  ticks:[0,10,20,30,40,50], tickLabels:["0","10","20","30","40","50"], vals:mGoal, errs:[7,5,6,5],
  sig:[[0,1,1458,'*'],[2,3,1478,'#']]});
</script>
</body></html>
